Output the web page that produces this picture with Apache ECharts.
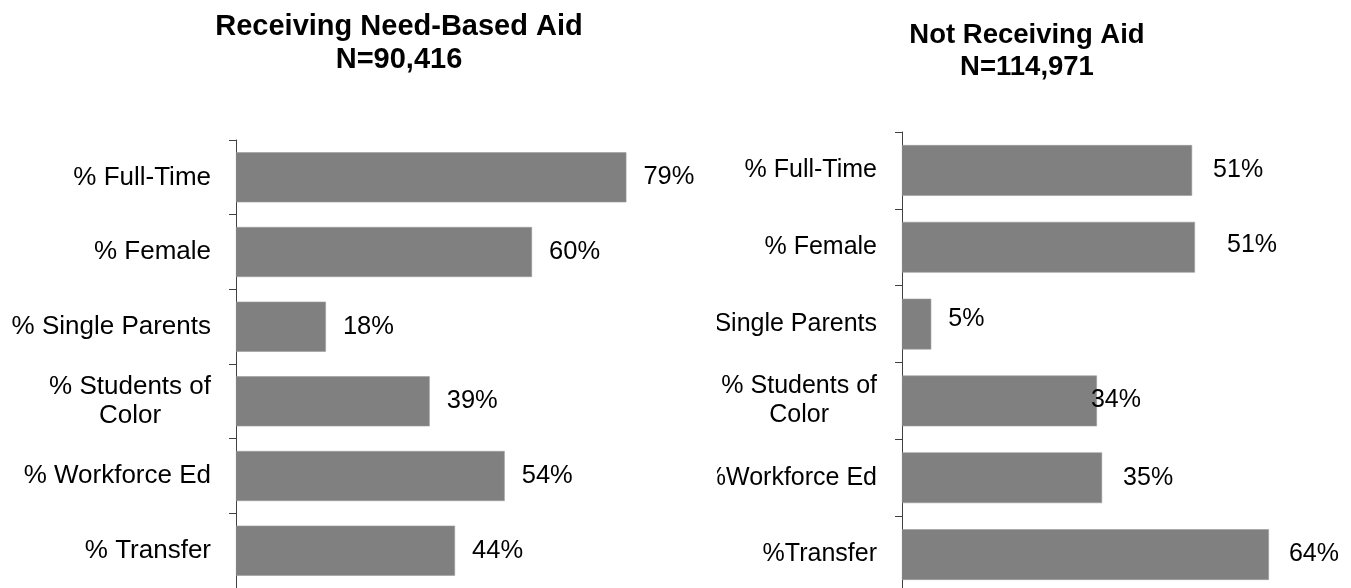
<!DOCTYPE html>
<html>
<head>
<meta charset="utf-8">
<script src="https://cdn.jsdelivr.net/npm/echarts@6/dist/echarts.min.js"></script>
<style>
  html, body { margin: 0; padding: 0; background: #fff; overflow: hidden; }
  #wrap { position: relative; width: 1351px; height: 588px; overflow: hidden; }
  #left { position: absolute; left: 0; top: 0; width: 717px; height: 588px; }
  #right { position: absolute; left: 717px; top: 0; width: 634px; height: 600px; }
</style>
</head>
<body>
<div id="wrap"><div id="left"></div><div id="right"></div></div>
<script>
// ---- data ----
const leftTitle = 'Receiving Need-Based Aid\nN=90,416';
const rightTitle = 'Not Receiving Aid\nN=114,971';
const leftCategories = ['% Full-Time', '% Female', '% Single Parents', '% Students of\nColor', '% Workforce Ed', '% Transfer'];
const rightCategories = ['% Full-Time', '% Female', '% Single Parents', '% Students of\nColor', '%Workforce Ed', '%Transfer'];
const leftValues = [78.6, 59.6, 18.1, 39.0, 54.1, 44.1];
const rightValues = [50.6, 51.1, 5.1, 34.0, 34.9, 64.0];

// ---- styling (label nudges seen in the original right panel) ----
const rightLabelNudgeX = [1, 12, -3, -26, 1, 0];
const rightLabelNudgeY = [0, -2, -5, -1, 0, 0];

const FONT = "'Liberation Sans', Arial, sans-serif";
const BAR = '#808080';
const AXIS = '#404040';

function catFormatter(v) {
  return v.split('\n').map(s => '{c|' + s + '}').join('\n');
}

function makeOption(cfg) {
  return {
    animation: false,
    title: {
      text: cfg.title,
      left: cfg.titleX,
      top: cfg.titleTop,
      textAlign: 'center',
      textStyle: { fontFamily: FONT, fontWeight: 'bold', fontSize: cfg.titleSize, lineHeight: cfg.titleLH, color: '#000' }
    },
    grid: {
      left: cfg.gridLeft, right: cfg.gridRight, top: cfg.gridTop, bottom: cfg.gridBottom,
      containLabel: false, outerBoundsMode: 'none'
    },
    xAxis: { type: 'value', min: 0, max: cfg.max, show: false },
    yAxis: {
      type: 'category',
      inverse: true,
      data: cfg.categories,
      axisLine: { show: true, lineStyle: { color: AXIS, width: 1 } },
      axisTick: { show: true, length: 7, lineStyle: { color: AXIS, width: 1 } },
      splitLine: { show: false },
      axisLabel: {
        margin: 25,
        color: '#000',
        fontFamily: FONT,
        fontSize: cfg.labelSize,
        align: 'right',
        formatter: catFormatter,
        rich: { c: { align: 'center', fontFamily: FONT, fontSize: cfg.labelSize, lineHeight: 29, color: '#000' } }
      }
    },
    series: [{
      type: 'bar',
      barWidth: cfg.barWidth,
      itemStyle: { color: BAR, borderColor: '#9a9a9a', borderWidth: 0.6 },
      label: {
        show: true,
        position: 'right',
        distance: cfg.labelDist,
        color: '#000',
        fontFamily: FONT,
        fontSize: cfg.valueSize,
        formatter: p => Math.round(p.value) + '%'
      },
      data: cfg.values.map((v, i) => cfg.nudgeX
        ? { value: v, label: { offset: [cfg.nudgeX[i], cfg.nudgeY[i]] } }
        : v)
    }]
  };
}

const leftChart = echarts.init(document.getElementById('left'), null, { renderer: 'canvas' });
leftChart.setOption(makeOption({
  title: leftTitle, titleX: 394, titleTop: 5, titleSize: 29, titleLH: 33,
  gridLeft: 236, gridRight: 34, gridTop: 140, gridBottom: 0,
  max: 90, categories: leftCategories, values: leftValues,
  labelSize: 26, valueSize: 25.5, labelDist: 17, barWidth: '67%'
}));

const rightChart = echarts.init(document.getElementById('right'), null, { renderer: 'canvas' });
rightChart.setOption(makeOption({
  title: rightTitle, titleX: 305, titleTop: 14, titleSize: 27.5, titleLH: 32,
  gridLeft: 185, gridRight: 19, gridTop: 132, gridBottom: 7,
  max: 75, categories: rightCategories, values: rightValues,
  labelSize: 25, valueSize: 25, labelDist: 20, barWidth: '66%',
  nudgeX: rightLabelNudgeX, nudgeY: rightLabelNudgeY
}));
</script>
</body>
</html>
